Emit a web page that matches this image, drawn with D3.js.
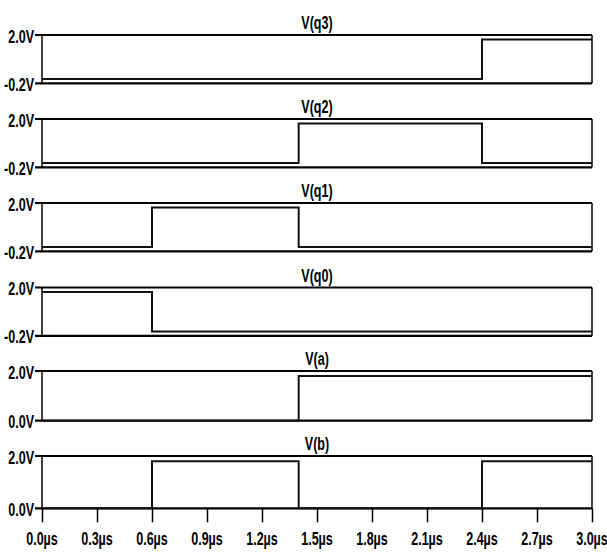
<html>
<head>
	<title>Waveforms</title>
	<meta charset="utf-8">
	<script src="https://d3js.org/d3.v7.min.js"></script>
	<style>
		body { margin: 0; background: #fff; }
		text { font-family: "Liberation Sans", Arial, sans-serif; font-weight: bold; font-size: 19px; fill: #000; }
	</style>
</head>
<body>
	<svg id="svg1" width="607" height="553"></svg>

	<script type="text/javascript">
		// transition times (us) and the level held after each one
		var times = [0, 0.6, 1.4, 2.4, 3.0]
		var names = ["V(q3)", "V(q2)", "V(q1)", "V(q0)", "V(a)", "V(b)"]
		var q3 = [0, 0, 0, 1.8]
		var q2 = [0, 0, 1.8, 0]
		var q1 = [0, 1.8, 0, 0]
		var q0 = [1.8, 0, 0, 0]
		var a = [0, 0, 1.8, 1.8]
		var b = [0, 1.8, 0, 1.8]
		var levels = [q3, q2, q1, q0, a, b]
		var yMins = [-0.2, -0.2, -0.2, -0.2, 0, 0]
		var yMax = 2.0
		var xTicks = [0, 0.3, 0.6, 0.9, 1.2, 1.5, 1.8, 2.1, 2.4, 2.7, 3.0]

		var svg = d3.select("#svg1")
		var x = d3.scaleLinear().domain([0, 3]).range([42, 592])
		// plain hyphen for negatives, like the original
		var fmt = v => d3.format(".1f")(v).replace("\u2212", "-")

		// panel layout
		var tops = [35, 119, 203, 287.5, 371, 456]
		var heights = [48.3, 48.3, 48.3, 48.3, 49.7, 52.3]
		var sx = 0.66 // squeeze the text horizontally

		function label(g, px, py, txt, anchor) {
			g.append("g")
				.attr("transform", "translate(" + px + "," + py + ")")
			  .append("text")
				.attr("transform", "scale(" + sx + ",1)")
				.attr("text-anchor", anchor)
				.text(txt)
		}

		names.forEach(function(name, i) {
			var top = tops[i], bot = tops[i] + heights[i]
			var y = d3.scaleLinear().domain([yMins[i], yMax]).range([bot, top])
			var g = svg.append("g")

			// frame + y ticks
			g.append("line").attr("x1", 35).attr("x2", 592).attr("y1", y(yMax)).attr("y2", y(yMax))
				.attr("stroke", "#000").attr("stroke-width", 2.2)
			g.append("line").attr("x1", 35).attr("x2", 592).attr("y1", y(yMins[i])).attr("y2", y(yMins[i]))
				.attr("stroke", "#000").attr("stroke-width", 2.2)
			g.append("line").attr("x1", x(0)).attr("x2", x(0)).attr("y1", top).attr("y2", bot)
				.attr("stroke", "#000").attr("stroke-width", 1.5)
			g.append("line").attr("x1", x(3)).attr("x2", x(3)).attr("y1", top).attr("y2", bot)
				.attr("stroke", "#000").attr("stroke-width", 1.5)

			label(g, 34, y(yMax) + 7.5, fmt(yMax) + "V", "end")
			label(g, 34, y(yMins[i]) + 7.5, fmt(yMins[i]) + "V", "end")
			label(g, x(1.5), top - 6, name, "middle")

			// signal as a step trace
			var pts = times.map(function(t, k) { return [t, levels[i][Math.min(k, levels[i].length - 1)]] })
			var line = d3.line()
				.x(d => x(d[0]))
				.y(d => y(d[1]))
				.curve(d3.curveStepAfter)
			g.append("path")
				.attr("d", line(pts))
				.attr("fill", "none")
				.attr("stroke", "#111")
				.attr("stroke-width", 2)
		})

		// x axis under the last panel
		var bottom = tops[5] + heights[5]
		var ax = svg.append("g")
			.attr("transform", "translate(0," + bottom + ")")
			.call(d3.axisBottom(x).tickValues(xTicks).tickSize(14).tickFormat(""))
		ax.select(".domain").remove()
		ax.selectAll(".tick line").attr("stroke", "#000").attr("stroke-width", 1.5)

		xTicks.forEach(function(t) {
			label(svg, x(t), bottom + 37, fmt(t) + "\u00b5s", "middle")
		})
</script>
</body>
</html>
